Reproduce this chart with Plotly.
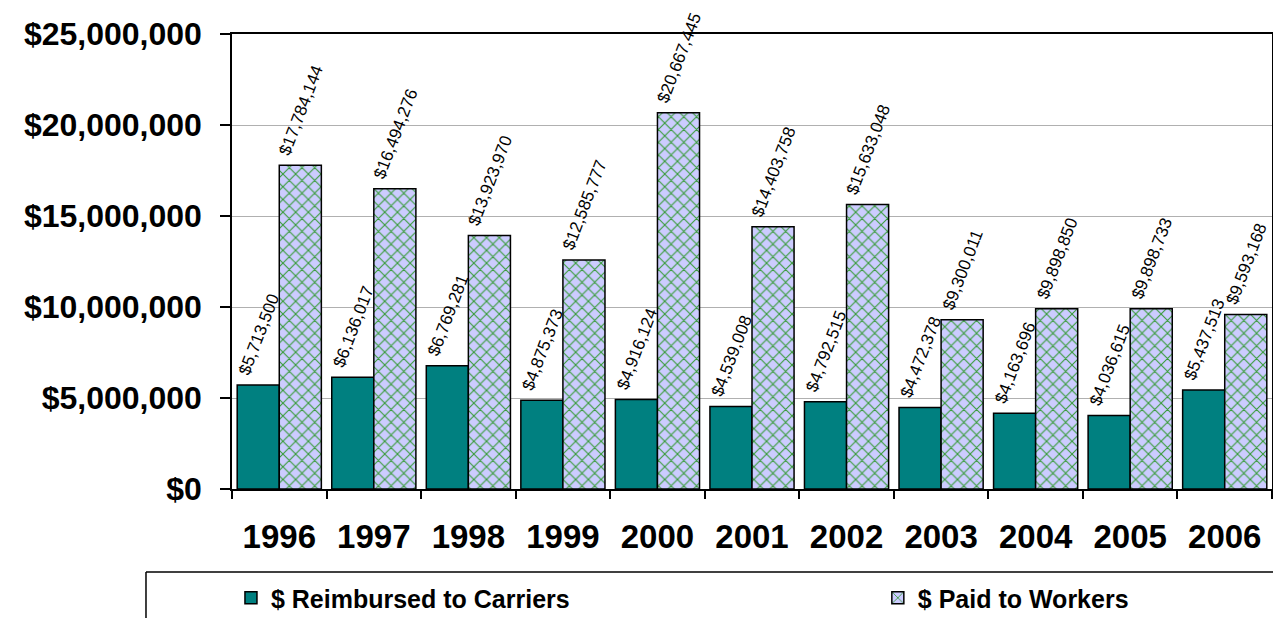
import plotly.graph_objects as go

years = ["1996", "1997", "1998", "1999", "2000", "2001", "2002", "2003", "2004", "2005", "2006"]
reimbursed = [5713500, 6136017, 6769281, 4875373, 4916124, 4539008, 4792515, 4472378, 4163696, 4036615, 5437513]
paid = [17784144, 16494276, 13923970, 12585777, 20667445, 14403758, 15633048, 9300011, 9898850, 9898733, 9593168]
series_names = ["$ Reimbursed to Carriers", "$ Paid to Workers"]
y_ticks = [0, 5000000, 10000000, 15000000, 20000000, 25000000]
y_tick_text = ["$0", "$5,000,000", "$10,000,000", "$15,000,000", "$20,000,000", "$25,000,000"]

FONT = "Liberation Sans, Arial, sans-serif"
NB = "\u00a0"

def fmt(v):
    return NB + "${:,}".format(v)

fig = go.Figure()
fig.add_trace(go.Bar(
    x=years, y=reimbursed, name=series_names[0], legend="legend",
    marker=dict(color="#008080", line=dict(color="black", width=1.5)),
    text=[fmt(v) for v in reimbursed], textposition="outside", textangle=-69,
    textfont=dict(family=FONT, size=17, color="black"),
    cliponaxis=False, constraintext="none",
))
fig.add_trace(go.Bar(
    x=years, y=paid, name=series_names[1], legend="legend2",
    marker=dict(color="#ccccff", line=dict(color="black", width=1.5),
                pattern=dict(shape="x", bgcolor="#ccccff", fgcolor="#359a35",
                             size=9, solidity=0.22, fillmode="replace")),
    text=[fmt(v) for v in paid], textposition="outside", textangle=-69,
    textfont=dict(family=FONT, size=17, color="black"),
    cliponaxis=False, constraintext="none",
))

legend_font = dict(family=FONT, size=25, color="black", weight="bold")
fig.update_layout(
    width=1281, height=618,
    margin=dict(l=224, r=17, t=26, b=137, autoexpand=False),
    paper_bgcolor="white", plot_bgcolor="white",
    barmode="group", bargap=0.11, bargroupgap=0,
    font=dict(family=FONT, color="black"),
    legend=dict(orientation="h", x=-0.001, xanchor="left", y=-0.2396, yanchor="middle",
                font=legend_font, bgcolor="rgba(0,0,0,0)"),
    legend2=dict(orientation="h", x=0.621, xanchor="left", y=-0.2396, yanchor="middle",
                 font=legend_font, bgcolor="rgba(0,0,0,0)"),
    showlegend=True,
)
fig.update_xaxes(
    type="category", showline=True, linecolor="black", linewidth=1.5, mirror=True,
    ticks="outside", ticklen=8, tickcolor="black", tickwidth=1.5, tickson="boundaries",
    tickfont=dict(family=FONT, size=33, color="black", weight="bold"),
    ticklabelstandoff=18, showgrid=False, automargin=False,
)
fig.update_yaxes(
    range=[0, 25000000], tickvals=y_ticks, ticktext=y_tick_text,
    showline=True, linecolor="black", linewidth=1.5, mirror=True,
    ticks="outside", ticklen=10, tickcolor="black", tickwidth=1.5,
    showgrid=True, gridcolor="#b0b0b0", gridwidth=1, zeroline=False,
    tickfont=dict(family=FONT, size=32, color="black", weight="bold"),
    ticklabelstandoff=12, automargin=False,
)
# legend frame (top and left edges visible, rest cropped)
fig.add_shape(type="line", xref="paper", yref="paper", x0=-0.0827, x1=1.05, y0=-0.1824, y1=-0.1824,
              line=dict(color="black", width=1.5))
fig.add_shape(type="line", xref="paper", yref="paper", x0=-0.0827, x1=-0.0827, y0=-0.1824, y1=-0.32,
              line=dict(color="black", width=1.5))

fig.write_html("out.html")
